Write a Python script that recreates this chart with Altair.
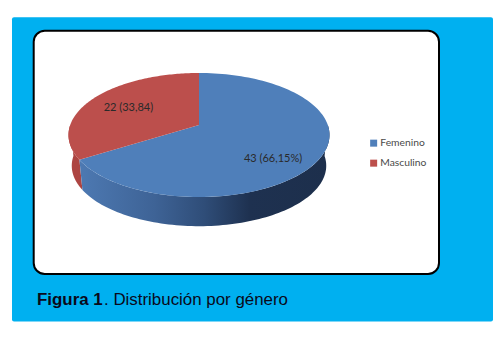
import altair as alt
import numpy as np
import pandas as pd

categories = ["Femenino", "Masculino"]
counts = [43, 22]
slice_labels = ["43  (66,15%)", "22  (33,84)"]
colors = ["#4f7fba", "#bc4f4c"]

# perspective tilt of the disc
K = 0.161
SHRINK = 0.975
DROP = 31 / 60.4


def disc(theta):
    u, v = np.sin(theta), np.cos(theta)
    d = 1 + K * v
    return u / d, v / d


fractions = np.cumsum([0] + counts) / sum(counts)
angles = fractions * 2 * np.pi

rows = []
for i, cat in enumerate(categories):
    th = np.linspace(angles[i], angles[i + 1], 120)
    xs, ys = disc(th)
    pts = [(0.0, 0.0)] + list(zip(xs, ys))
    for n, (x, y) in enumerate(pts):
        rows.append({"cat": cat, "n": n, "x": x, "y": y})
top = pd.DataFrame(rows)

walls = {}
for cat, a, b in [("Femenino", np.pi / 2, angles[1]), ("Masculino", angles[1], 3 * np.pi / 2)]:
    th = np.linspace(a, b, 100)
    xs, ys = disc(th)
    xb, yb = xs * SHRINK, ys * SHRINK - DROP
    walls[cat] = pd.DataFrame({
        "x": np.concatenate([xs, xb[::-1]]),
        "y": np.concatenate([ys, yb[::-1]]),
        "n": np.arange(200),
    })

W, H = 485, 322
x_scale = alt.Scale(domain=[-1, 1], range=[199 - 8 - 128.8, 199 - 8 + 128.8], nice=False, zero=False)
y_scale = alt.Scale(domain=[-1, 1], range=[117 + 60.4, 117 - 60.4], nice=False, zero=False)
X = alt.X("x:Q", scale=x_scale, axis=None)
Y = alt.Y("y:Q", scale=y_scale, axis=None)

frame = pd.DataFrame({"k": [0]})
panel = alt.Chart(frame).mark_rect(color="#00b0f0", cornerRadius=2).encode(
    x=alt.value(4), x2=alt.value(W), y=alt.value(9.3), y2=alt.value(313.5))
box = alt.Chart(frame).mark_rect(fill="white", stroke="black", strokeWidth=2, cornerRadius=11).encode(
    x=alt.value(25.7), x2=alt.value(431), y=alt.value(22.7), y2=alt.value(266))

blue_grad = alt.LinearGradient(
    gradient="linear", x1=0, x2=1, y1=0, y2=0,
    stops=[
        alt.GradientStop(offset=0, color="#4d79b2"),
        alt.GradientStop(offset=0.3, color="#3e6396"),
        alt.GradientStop(offset=0.5, color="#2f4d78"),
        alt.GradientStop(offset=0.68, color="#1e3150"),
        alt.GradientStop(offset=1, color="#1d2f4c"),
    ],
)
wall_b = alt.Chart(walls["Femenino"]).mark_line(
    fill=blue_grad, strokeWidth=0, interpolate="linear-closed", clip=False
).encode(x=X, y=Y, order="n:Q")
wall_r = alt.Chart(walls["Masculino"]).mark_line(
    fill="#ad4542", strokeWidth=0, interpolate="linear-closed"
).encode(x=X, y=Y, order="n:Q")

discs = alt.Chart(top).mark_line(filled=True, strokeWidth=0, interpolate="linear-closed").encode(
    x=X, y=Y, order="n:Q",
    color=alt.Color(
        "cat:N",
        scale=alt.Scale(domain=categories, range=colors),
        legend=alt.Legend(
            title=None, orient="none", legendX=360.5, legendY=130,
            symbolType="square", symbolSize=49, symbolStrokeWidth=0, rowPadding=9,
            labelFont="Lato", labelFontSize=10.3, labelColor="#4a4a4a", labelOffset=1.5,
            symbolOpacity=1,
        ),
    ),
)

label_df = pd.DataFrame({"t": slice_labels, "x": [0.575, -0.548], "y": [-0.56, 0.285]})
labels = alt.Chart(label_df).mark_text(
    font="Lato", fontSize=11, color="#2a2a2a", align="center", baseline="middle"
).encode(x=X, y=Y, text="t:N")

cap1 = alt.Chart(frame).transform_calculate(t="'Figura 1'").mark_text(
    font="Liberation Sans", fontWeight="bold", fontSize=16.9, color="#0a0a1a", align="left", baseline="alphabetic"
).encode(x=alt.value(29), y=alt.value(297), text="t:N")
cap2 = alt.Chart(frame).transform_calculate(t="'. Distribución por género'").mark_text(
    font="Liberation Sans", fontSize=16.9, color="#0a0a1a", align="left", baseline="alphabetic"
).encode(x=alt.value(96), y=alt.value(297), text="t:N")

chart = alt.layer(panel, box, wall_r, wall_b, discs, labels, cap1, cap2).resolve_scale(
    x="shared", y="shared"
).properties(width=W, height=H, padding=0, background="white").configure_view(stroke=None)

chart.save("out.html", embed_options={"renderer": "svg", "actions": False})
